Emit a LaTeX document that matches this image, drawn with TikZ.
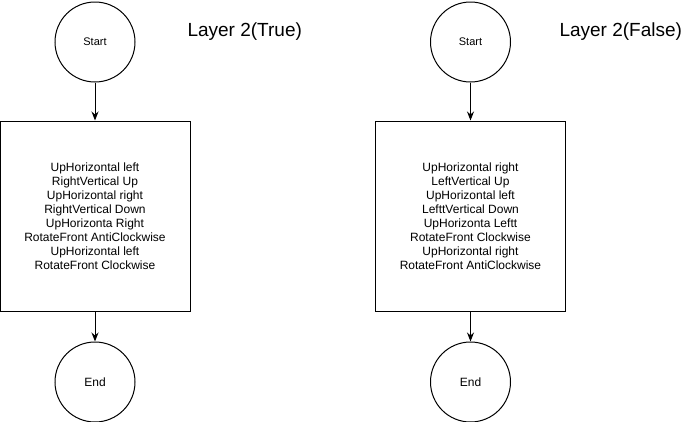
\documentclass[tikz,border=0pt]{standalone}
\usepackage{fontspec}
\setmainfont{Liberation Sans}
\usetikzlibrary{arrows.meta,positioning}

\begin{document}
\begin{tikzpicture}[
  term/.style={draw,circle,line width=1pt,minimum size=80pt,inner sep=0pt,font=\fontsize{11}{13}\selectfont},
  steps/.style={draw,line width=1pt,minimum width=190pt,minimum height=190pt,align=center,font=\fontsize{12}{14}\selectfont},
  heading/.style={anchor=west,font=\fontsize{19}{23}\selectfont},
  arr/.style={-{Stealth[length=9pt,width=7pt]},line width=1pt},
  node distance=38pt
]
\useasboundingbox (0,0) rectangle (686pt,-421pt);
\node[term] (s1) at (95pt,-42pt) {Start};
\node[steps,below=of s1] (b1) {UpHorizontal left\\RightVertical Up\\UpHorizontal right\\RightVertical Down\\UpHorizonta Right\\RotateFront AntiClockwise\\UpHorizontal left\\RotateFront Clockwise};
\node[term,below=30pt of b1,font=\fontsize{12}{14}\selectfont] (e1) {End};
\node[heading] (t1) at (184pt,-32pt) {Layer 2(True)};

\node[term] (s2) at (470.5pt,-42pt) {Start};
\node[steps,below=of s2] (b2) {UpHorizontal right\\LeftVertical Up\\UpHorizontal left\\LefttVertical Down\\UpHorizonta Leftt\\RotateFront Clockwise\\UpHorizontal right\\RotateFront AntiClockwise};
\node[term,below=30pt of b2,font=\fontsize{12}{14}\selectfont] (e2) {End};
\node[heading] (t2) at (556pt,-32pt) {Layer 2(False)};

\draw[arr] (s1) -- (b1);
\draw[arr] (b1) -- (e1);
\draw[arr] (s2) -- (b2);
\draw[arr] (b2) -- (e2);
\end{tikzpicture}
\end{document}
